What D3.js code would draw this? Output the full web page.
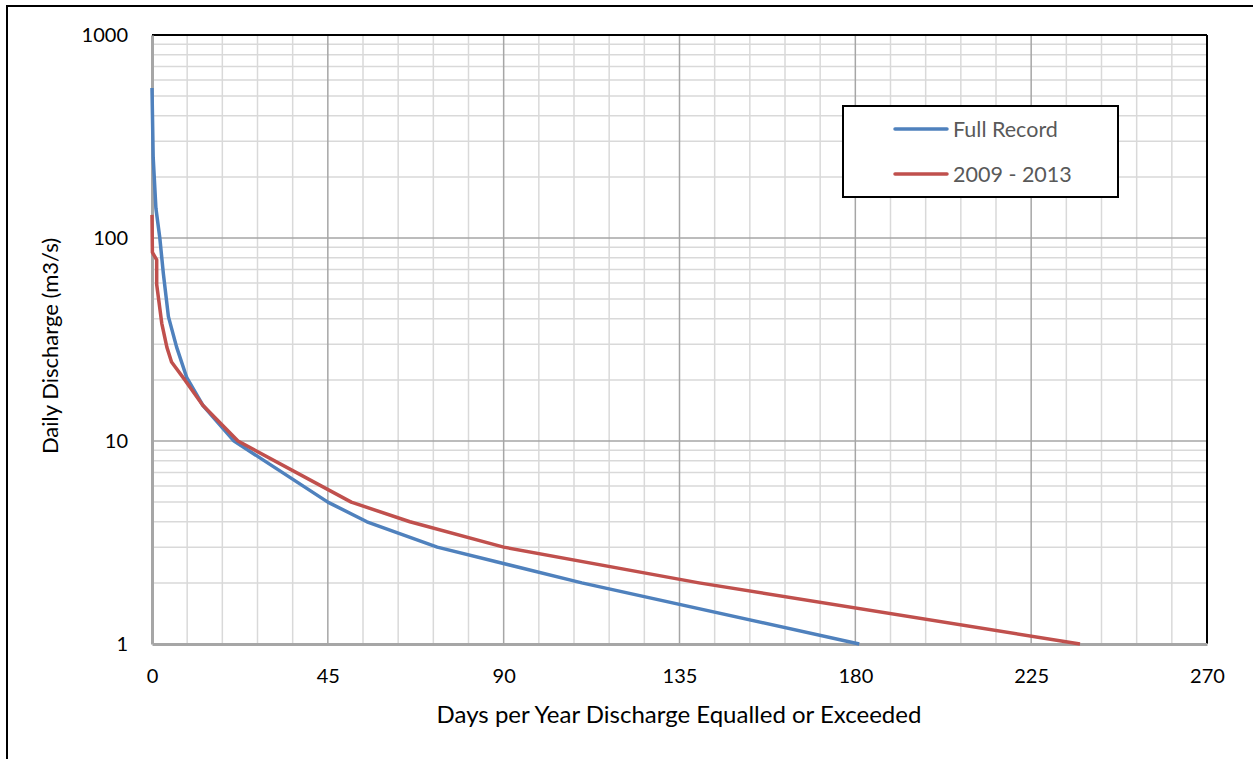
<!DOCTYPE html>
<html><head><meta charset="utf-8">
<script src="https://cdn.jsdelivr.net/npm/d3@7"></script>
<style>body{margin:0;background:#fff}svg{display:block;font-family:Lato,"Liberation Sans",sans-serif}</style>
</head><body>
<svg id="c" width="1253" height="759"></svg>
<script>
const seriesNames = ["Full Record", "2009 - 2013"];
const fullDays = [0, 0.3, 1, 2, 2.9, 4.2, 6.3, 8.9, 13, 21, 45, 55, 73, 110, 181];
const fullValues = [548, 250, 140, 100, 67, 41, 29, 20.5, 15, 10, 5, 4, 3, 2, 1];
const recentDays = [0, 0.1, 1.2, 1.2, 2.5, 3.8, 5, 8.4, 13, 22, 51, 66, 90, 140, 237.5];
const recentValues = [130, 85, 78, 59, 38, 29, 24.5, 20, 15, 10, 5, 4, 3, 2, 1];
const xTicks = [0, 45, 90, 135, 180, 225, 270];
const yTicks = [1, 10, 100, 1000];
const colors = ["#4f81bd", "#c0504d"];

const svg = d3.select("#c");
const L = 152, R = 1207, T = 35, B = 644;
const x = d3.scaleLinear().domain([0, 270]).range([L, R]);
const y = d3.scaleLog().domain([1, 1000]).range([B, T]);

// outer chart frame
svg.append("rect").attr("x", 7).attr("y", 6).attr("width", 1260).attr("height", 800)
  .attr("fill", "none").attr("stroke", "#000").attr("stroke-width", 2);

// minor gridlines
const xMinor = d3.range(0, 271, 9).filter(v => v % 45 !== 0);
svg.append("g").selectAll("line").data(xMinor).join("line")
  .attr("x1", d => x(d)).attr("x2", d => x(d)).attr("y1", T).attr("y2", B)
  .attr("stroke", "#d9d9d9").attr("stroke-width", 1.5);
const yMinor = [];
[1, 10, 100].forEach(b => { for (let k = 2; k <= 9; k++) yMinor.push(b * k); });
svg.append("g").selectAll("line").data(yMinor).join("line")
  .attr("x1", L).attr("x2", R).attr("y1", d => y(d)).attr("y2", d => y(d))
  .attr("stroke", "#d9d9d9").attr("stroke-width", 1.5);
// major gridlines
svg.append("g").selectAll("line").data(xTicks.slice(1, -1)).join("line")
  .attr("x1", d => x(d)).attr("x2", d => x(d)).attr("y1", T).attr("y2", B)
  .attr("stroke", "#a6a6a6").attr("stroke-width", 1.5);
svg.append("g").selectAll("line").data(yTicks.slice(1, -1)).join("line")
  .attr("x1", L).attr("x2", R).attr("y1", d => y(d)).attr("y2", d => y(d))
  .attr("stroke", "#a6a6a6").attr("stroke-width", 1.5);

// plot border: top & right black
svg.append("line").attr("x1", L).attr("x2", R).attr("y1", T).attr("y2", T).attr("stroke", "#000").attr("stroke-width", 2);
svg.append("line").attr("x1", R).attr("x2", R).attr("y1", T).attr("y2", B).attr("stroke", "#000").attr("stroke-width", 2);

// axes
const xAxis = d3.axisBottom(x).tickValues(xTicks).tickSize(0).tickPadding(25);
const gx = svg.append("g").attr("transform", `translate(0,${B})`).call(xAxis);
gx.select(".domain").attr("stroke", "#a6a6a6").attr("stroke-width", 3);
gx.selectAll("text").attr("font-size", 20).attr("fill", "#000").attr("font-family", "Lato");

const yAxis = d3.axisLeft(y).tickValues(yTicks).tickFormat(d3.format("d")).tickSize(0).tickPadding(24);
const gy = svg.append("g").attr("transform", `translate(${L},0)`).call(yAxis);
gy.select(".domain").attr("stroke", "#a6a6a6").attr("stroke-width", 3);
gy.selectAll("text").attr("font-size", 20).attr("fill", "#000").attr("font-family", "Lato");

// lines
const line = d3.line().x(d => x(d[0])).y(d => y(d[1]));
const data = [d3.zip(fullDays, fullValues), d3.zip(recentDays, recentValues)];
svg.append("g").selectAll("path").data(data).join("path")
  .attr("d", line).attr("fill", "none")
  .attr("stroke", (d, i) => colors[i]).attr("stroke-width", 3.5)
  .attr("stroke-linejoin", "round");

// axis titles
svg.append("text").attr("x", 679).attr("y", 723).attr("text-anchor", "middle")
  .attr("font-size", 24).attr("fill", "#000").text("Days per Year Discharge Equalled or Exceeded");
svg.append("text").attr("transform", "translate(58,346) rotate(-90)").attr("text-anchor", "middle")
  .attr("font-size", 22).attr("fill", "#000").text("Daily Discharge (m3/s)");

// legend
const lg = svg.append("g");
lg.append("rect").attr("x", 843).attr("y", 106).attr("width", 275).attr("height", 91)
  .attr("fill", "#fff").attr("stroke", "#000").attr("stroke-width", 2);
seriesNames.forEach((n, i) => {
  const yy = 129 + i * 45;
  lg.append("line").attr("x1", 895).attr("x2", 947).attr("y1", yy).attr("y2", yy)
    .attr("stroke", colors[i]).attr("stroke-width", 3.5).attr("stroke-linecap", "round");
  lg.append("text").attr("x", 953).attr("y", yy).attr("dy", "0.35em")
    .attr("font-size", 21.5).attr("fill", "#595959").text(n);
});
</script>
</body></html>
